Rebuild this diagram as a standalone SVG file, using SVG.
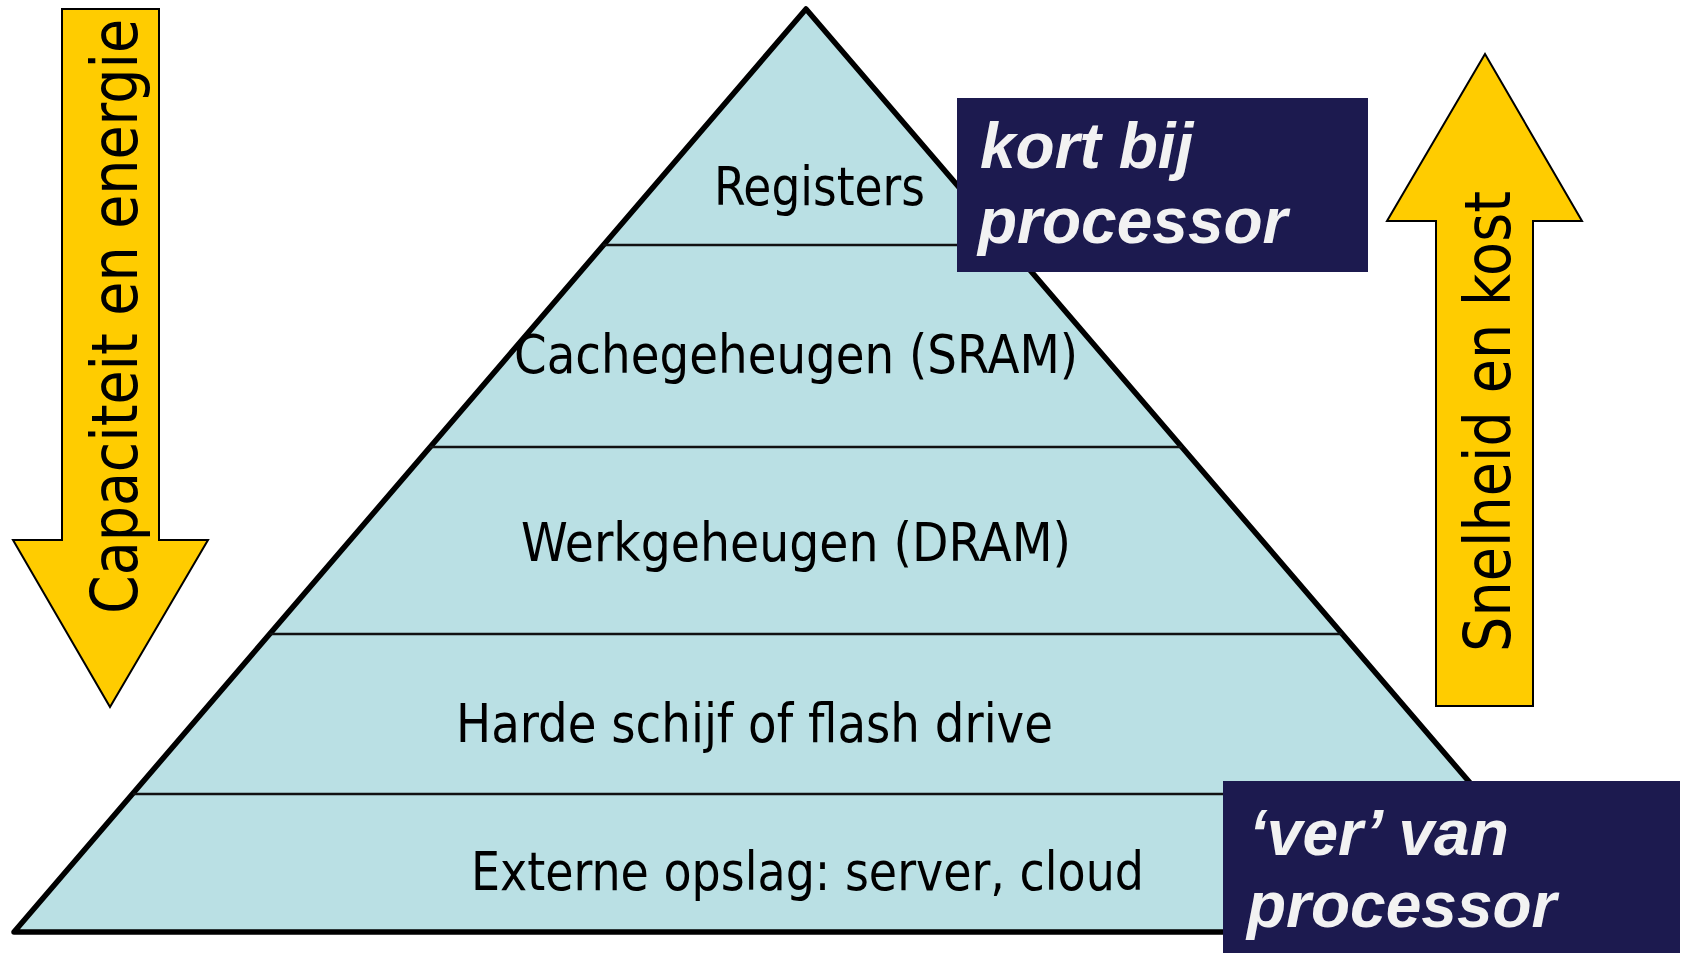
<svg xmlns="http://www.w3.org/2000/svg" width="1682" height="953" viewBox="0 0 1682 953">
<style>
.arrow{fill:#FFCC00;stroke:#000;stroke-width:2;stroke-linejoin:miter}
.side{font-family:"DejaVu Sans Condensed","DejaVu Sans",sans-serif;font-size:64px;fill:#000}
.lvl{font-family:"DejaVu Sans Condensed","DejaVu Sans",sans-serif;font-size:53px;fill:#000}
.box{fill:#1C1A4F}
.boxt{font-family:"Liberation Sans",Arial,sans-serif;font-weight:bold;font-style:italic;font-size:64px;fill:#F2F2F2}
.sep{stroke:#111;stroke-width:2.5}
</style>
<rect width="1682" height="953" fill="#fff"/>
<g id="pyramid">
<polygon points="806,9 1598,932 14,932" fill="#BAE0E4" stroke="#000" stroke-width="5.5" stroke-linejoin="round"/>
</g>
<g id="connectors">
<line class="sep" x1="603" y1="245" x2="1009" y2="245"/>
<line class="sep" x1="430" y1="447" x2="1182" y2="447"/>
<line class="sep" x1="270" y1="634" x2="1342" y2="634"/>
<line class="sep" x1="133" y1="794" x2="1479" y2="794"/>
</g>
<g id="level-registers"><text class="lvl" x="714" y="205" textLength="211" lengthAdjust="spacingAndGlyphs">Registers</text></g>
<g id="level-cache"><text class="lvl" x="514" y="373" textLength="564" lengthAdjust="spacingAndGlyphs">Cachegeheugen (SRAM)</text></g>
<g id="level-dram"><text class="lvl" x="521" y="561" textLength="550" lengthAdjust="spacingAndGlyphs">Werkgeheugen (DRAM)</text></g>
<g id="level-disk"><text class="lvl" x="456" y="742" textLength="597" lengthAdjust="spacingAndGlyphs">Harde schijf of flash drive</text></g>
<g id="level-extern"><text class="lvl" x="471" y="890" textLength="673" lengthAdjust="spacingAndGlyphs">Externe opslag: server, cloud</text></g>
<g id="arrow-down">
<polygon class="arrow" points="62,9 159,9 159,540 208,540 110,707 13,540 62,540"/>
<text class="side" x="137" y="614" transform="rotate(-90 137 614)" textLength="595" lengthAdjust="spacingAndGlyphs">Capaciteit en energie</text>
</g>
<g id="arrow-up">
<polygon class="arrow" points="1485,54 1582,221 1533,221 1533,706 1436,706 1436,221 1387,221"/>
<text class="side" x="1510" y="652" transform="rotate(-90 1510 652)" textLength="461" lengthAdjust="spacingAndGlyphs">Snelheid en kost</text>
</g>
<g id="box-near">
<rect class="box" x="957" y="98" width="411" height="174"/>
<text class="boxt" x="980" y="168">kort bij</text>
<text class="boxt" x="978" y="243">processor</text>
</g>
<g id="box-far">
<rect class="box" x="1223" y="781" width="457" height="172"/>
<text class="boxt" x="1249" y="855">‘ver’ van</text>
<text class="boxt" x="1247" y="927">processor</text>
</g>
</svg>
